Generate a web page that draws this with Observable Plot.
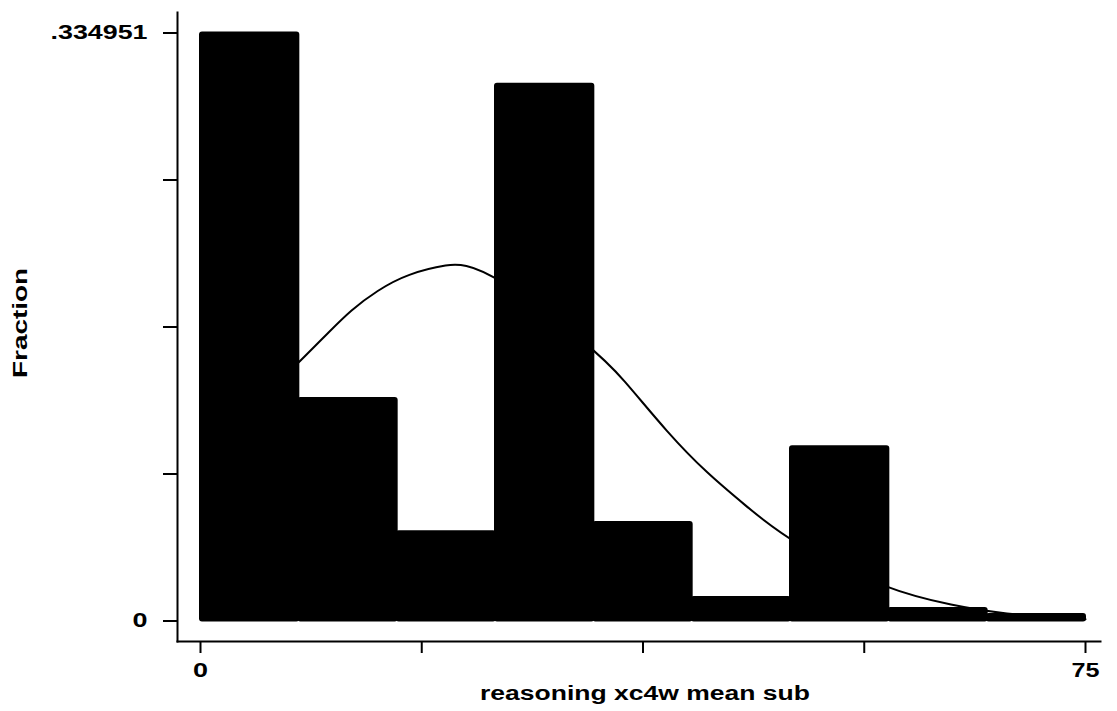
<!DOCTYPE html>
<html>
<head>
<meta charset="utf-8">
<script src="https://cdn.jsdelivr.net/npm/d3@7"></script>
<script src="https://cdn.jsdelivr.net/npm/@observablehq/plot@0.6"></script>
<style>
  html, body { margin: 0; padding: 0; background: #fff; }
</style>
</head>
<body>
<div id="chart"></div>
<script>
// Histogram bins (x = reasoning xc4w mean sub), values = fraction of observations
const binStart = [0, 8.333, 16.667, 25, 33.333, 41.667, 50, 58.333, 66.667];
const binEnd   = [8.333, 16.667, 25, 33.333, 41.667, 50, 58.333, 66.667, 75];
const fraction = [0.334951, 0.1267, 0.0508, 0.3058, 0.0561, 0.0134, 0.0992, 0.0071, 0.0037];

// Overlaid normal density curve
const curveX = [8.33, 11.02, 12.71, 14.97, 17.52, 21.19, 22.29, 24.86, 33.36, 35.71, 39.65, 42.97, 46.01, 49.94, 58.36, 63.86, 67.8, 75];
const curveY = [0.1474, 0.1655, 0.1769, 0.1883, 0.1978, 0.2035, 0.2029, 0.1981, 0.1551, 0.1389, 0.1066, 0.0839, 0.0668, 0.0449, 0.0170, 0.0088, 0.0040, 0.0010];

// Axis ticks and labels
const yMax = 0.334951;
const xTicks = [0, 18.75, 37.5, 56.25, 75];
const xTickLabels = ["0", "", "", "", "75"];
const yTicks = [0, 0.08373775, 0.1674755, 0.25121325, 0.334951];
const yTickLabels = ["0", "", "", "", ".334951"];
const xTitle = "reasoning xc4w mean sub";
const yTitle = "Fraction";

const bars = binStart.map((lo, i) => ({lo, hi: binEnd[i], f: fraction[i]}));
const curve = curveX.map((x, i) => ({x, y: curveY[i]}));

const chart = Plot.plot({
  width: 1117,
  height: 711,
  marginLeft: 177,
  marginRight: 17,
  marginTop: 12,
  marginBottom: 70,
  style: {fontFamily: "'Liberation Sans', Arial, sans-serif", fontSize: "20px", fontWeight: "bold", color: "black", background: "white"},
  x: {domain: [0, 75], insetLeft: 23, insetRight: 15},
  y: {domain: [0, yMax], insetTop: 20.5, insetBottom: 20.5},
  marks: [
    Plot.rectY(bars, {x1: "lo", x2: "hi", y: "f", fill: "black", stroke: "black", strokeWidth: 2, strokeLinejoin: "round", rx: 2}),
    Plot.line(curve, {x: "x", y: "y", stroke: "black", strokeWidth: 2, curve: "basis"}),
    Plot.axisX({ticks: xTicks, tickFormat: (d) => xTickLabels[xTicks.indexOf(d)], tickSize: 12, tickPadding: 9, strokeWidth: 2, label: null}),
    Plot.axisY({ticks: yTicks, tickFormat: (d) => yTickLabels[yTicks.indexOf(d)], tickSize: 14, tickPadding: 16, strokeWidth: 2, label: null}),
    Plot.frame({anchor: "left", strokeWidth: 2}),
    Plot.frame({anchor: "bottom", strokeWidth: 2}),
    Plot.text([xTitle], {frameAnchor: "bottom", dx: 6, dy: 52, lineAnchor: "middle", text: d => d, fontWeight: "bold", fontSize: 20}),
    Plot.text([yTitle], {frameAnchor: "left", dx: -157, dy: 51, rotate: -90, textAnchor: "start", lineAnchor: "middle", text: d => d, fontWeight: "bold", fontSize: 21})
  ]
});

// stretch text horizontally like the reference's wide glyphs
const widths = {".334951": 97, "0": 15, "75": 28, "reasoning xc4w mean sub": 330, "Fraction": 110};
chart.querySelectorAll("text").forEach(t => {
  const s = t.textContent;
  if (widths[s] !== undefined) {
    t.setAttribute("textLength", widths[s]);
    t.setAttribute("lengthAdjust", "spacingAndGlyphs");
  }
});

document.getElementById("chart").appendChild(chart);
</script>
</body>
</html>
